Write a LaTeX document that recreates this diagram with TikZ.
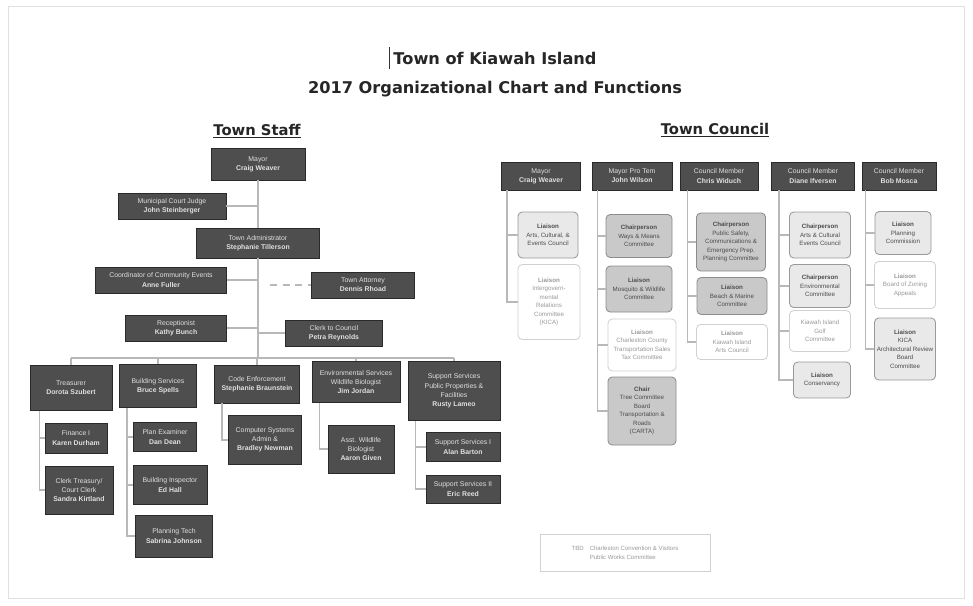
\documentclass[tikz,border=0pt]{standalone}
\usepackage{fontspec}
\setmainfont{Liberation Sans}
\newfontfamily\titlefont{DejaVu Sans}
\usetikzlibrary{calc}
\definecolor{dk}{HTML}{4E4E4E}
\definecolor{dkline}{HTML}{2A2A2A}
\definecolor{fg}{HTML}{C9C9C9}
\definecolor{fl}{HTML}{E9E9E9}
\tikzset{
 px/.style 2 args={minimum width=#1*0.025cm, minimum height=#2*0.025cm},
 dark/.style={draw=dkline, fill=dk, text=white!88!black, line width=0.7pt,
   font=\fontsize{4.9}{6.6}\selectfont, align=center, inner sep=1pt},
 fgray/.style={draw=black!45, fill=fg, rounded corners=3pt, text=black!70, line width=0.6pt,
   font=\fontsize{4.4}{6}\selectfont, align=center, inner sep=1pt},
 flight/.style={draw=black!40, fill=fl, rounded corners=3pt, text=black!70, line width=0.6pt,
   font=\fontsize{4.4}{6}\selectfont, align=center, inner sep=1pt},
 fwhite/.style={draw=black!18, fill=white, rounded corners=3pt, text=black!40, line width=0.6pt,
   font=\fontsize{4.4}{6}\selectfont, align=center, inner sep=1pt},
 conn/.style={draw=black!28, line width=0.9pt},
 heading/.style={font=\titlefont\bfseries\fontsize{10.5}{13}\selectfont, text=black!85},
 ttl/.style={font=\titlefont\bfseries\fontsize{11.5}{14}\selectfont, text=black!85},
}
\begin{document}
\begin{tikzpicture}[x=0.025cm,y=-0.025cm]
\useasboundingbox (0,0) rectangle (973,605);
\fill[white] (0,0) rectangle (973,605);
\draw[black!12, line width=0.5pt] (8,6) rectangle (964,598);

% titles
\node[ttl] (t1) at (495,58) {Town of Kiawah Island};
\draw[black!80, line width=0.5pt] (389,47) -- (389,69);
\node[ttl] (t2) at (495,89) {2017 Organizational Chart and Functions};
\node[heading] (hs) at (257,131) {\underline{Town Staff}};
\node[heading] (hc) at (715,130) {\underline{Town Council}};

% ---------------- Town Staff ----------------
\node[dark, px={94}{32}] (mayorS) at (258,164) {Mayor\\\textbf{Craig Weaver}};
\node[dark, px={108}{26}] (judge) at (172,206) {Municipal Court Judge\\\textbf{John Steinberger}};
\node[dark, px={123}{30}] (admin) at (258,243) {Town Administrator\\\textbf{Stephanie Tillerson}};
\node[dark, px={131}{26}] (coord) at (161,280) {Coordinator of Community Events\\\textbf{Anne Fuller}};
\node[dark, px={103}{26}] (atty) at (363,285) {Town Attorney\\\textbf{Dennis Rhoad}};
\node[dark, px={101}{26}] (recep) at (176,328) {Receptionist\\\textbf{Kathy Bunch}};
\node[dark, px={97}{26}] (clerk) at (334,333) {Clerk to Council\\\textbf{Petra Reynolds}};

\node[dark, px={82}{45}] (treas) at (71,388) {Treasurer\\\textbf{Dorota Szubert}};
\node[dark, px={77}{43}] (build) at (158,386) {Building Services\\\textbf{Bruce Spells}};
\node[dark, px={85}{38}] (code) at (257,384) {Code Enforcement\\\textbf{Stephanie Braunstein}};
\node[dark, px={88}{41}] (env) at (356,382) {Environmental Services\\Wildlife Biologist\\\textbf{Jim Jordan}};
\node[dark, px={92}{59}] (supp) at (454,391) {Support Services\\Public Properties \&\\Facilities\\\textbf{Rusty Lameo}};

\node[dark, px={62}{30}] (fin) at (76,438) {Finance I\\\textbf{Karen Durham}};
\node[dark, px={68}{48}] (ctreas) at (79,490) {Clerk Treasury/\\Court Clerk\\\textbf{Sandra Kirtland}};
\node[dark, px={63}{29}] (plan) at (165,437) {Plan Examiner\\\textbf{Dan Dean}};
\node[dark, px={74}{39}] (binsp) at (170,485) {Building Inspector\\\textbf{Ed Hall}};
\node[dark, px={77}{42}] (ptech) at (174,536) {Planning Tech\\\textbf{Sabrina Johnson}};
\node[dark, px={73}{49}] (codesub) at (265,440) {Computer Systems\\Admin \&\\\textbf{Bradley Newman}};
\node[dark, px={66}{48}] (wild) at (361,449) {Asst. Wildlife\\Biologist\\\textbf{Aaron Given}};
\node[dark, px={74}{29}] (supp1) at (463,447) {Support Services I\\\textbf{Alan Barton}};
\node[dark, px={74}{28}] (supp2) at (463,489) {Support Services II\\\textbf{Eric Reed}};

% staff connectors
\coordinate (bus) at (258,358);
\draw[conn] (mayorS.south) -- (admin.north);
\draw[conn] (admin.south) -- (bus);
\draw[conn] (judge.east) -- (judge.east -| bus);
\draw[conn] (coord.east) -- (coord.east -| bus);
\draw[conn, dashed, dash pattern=on 5pt off 4pt] ($(atty.west -| bus)+(12,0)$) -- (atty.west);
\draw[conn] (recep.east) -- (recep.east -| bus);
\draw[conn] (clerk.west -| bus) -- (clerk.west);
\draw[conn] (treas.north |- bus) -- (supp.north |- bus);
\foreach \n in {treas,build,code,env,supp}{\draw[conn] (\n.north |- bus) -- (\n.north);}

\coordinate (tl) at ($(treas.south west)+(10,0)$);
\draw[conn] (tl) |- (ctreas.west);
\draw[conn] (tl |- fin.west) -- (fin.west);
\coordinate (bl) at ($(build.south west)+(8,0)$);
\draw[conn] (bl) |- (ptech.west);
\draw[conn] (bl |- plan.west) -- (plan.west);
\draw[conn] (bl |- binsp.west) -- (binsp.west);
\coordinate (cl) at ($(code.south west)+(8,0)$);
\draw[conn] (cl) |- (codesub.west);
\coordinate (el) at ($(env.south west)+(8,0)$);
\draw[conn] (el) |- (wild.west);
\coordinate (sl) at ($(supp.south west)+(8,0)$);
\draw[conn] (sl) |- (supp2.west);
\draw[conn] (sl |- supp1.west) -- (supp1.west);

% ---------------- Town Council ----------------
\node[dark, px={79}{28}] (mayC) at (541,176) {Mayor\\\textbf{Craig Weaver}};
\node[dark, px={80}{28}] (protem) at (632,176) {Mayor Pro Tem\\\textbf{John Wilson}};
\node[dark, px={78}{28}] (cm1) at (719,176) {Council Member\\\textbf{Chris Widuch}};
\node[dark, px={83}{28}] (cm2) at (813,176) {Council Member\\\textbf{Diane Ifversen}};
\node[dark, px={74}{28}] (cm3) at (899,176) {Council Member\\\textbf{Bob Mosca}};

\node[flight, px={60}{46}] (m1) at (548,235) {\textbf{Liaison}\\Arts, Cultural, \&\\Events Council};
\node[fwhite, px={62}{75}] (m2) at (549,302) {\textbf{Liaison}\\Intergovern-\\mental\\Relations\\Committee\\(KICA)};

\node[fgray, px={66}{43}] (p1) at (639,236) {\textbf{Chairperson}\\Ways \& Means\\Committee};
\node[fgray, px={66}{46}] (p2) at (639,289) {\textbf{Liaison}\\Mosquito \& Wildlife\\Committee};
\node[fwhite, px={68}{52}] (p3) at (642,345) {\textbf{Liaison}\\Charleston County\\Transportation Sales\\Tax Committee};
\node[fgray, px={68}{68}] (p4) at (642,411) {\textbf{Chair}\\Tree Committee\\Board\\Transportation \&\\Roads\\(CARTA)};

\node[fgray, px={69}{58}] (c1) at (731,242) {\textbf{Chairperson}\\Public Safety,\\Communications \&\\Emergency Prep.\\Planning Committee};
\node[fgray, px={70}{37}] (c2) at (732,296) {\textbf{Liaison}\\Beach \& Marine\\Committee};
\node[fwhite, px={71}{35}] (c3) at (732,342) {\textbf{Liaison}\\Kiawah Island\\Arts Council};

\node[flight, px={61}{46}] (d1) at (820,235) {\textbf{Chairperson}\\Arts \& Cultural\\Events Council};
\node[flight, px={61}{43}] (d2) at (820,286) {\textbf{Chairperson}\\Environmental\\Committee};
\node[fwhite, px={61}{41}] (d3) at (820,331) {Kiawah Island\\Golf\\Committee};
\node[flight, px={57}{36}] (d4) at (822,380) {\textbf{Liaison}\\Conservancy};

\node[flight, px={56}{43}] (b1) at (903,233) {\textbf{Liaison}\\Planning\\Commission};
\node[fwhite, px={61}{47}] (b2) at (905,285) {\textbf{Liaison}\\Board of Zoning\\Appeals};
\node[flight, px={61}{62}] (b3) at (905,349) {\textbf{Liaison}\\KICA\\Architectural Review\\Board\\Committee};

% council connectors
\coordinate (ma) at ($(mayC.south west)+(6,0)$);
\draw[conn] (ma) |- (m2.west);
\draw[conn] (ma |- m1.west) -- (m1.west);
\coordinate (pa) at ($(protem.south west)+(6,0)$);
\draw[conn] (pa) |- (p4.west);
\foreach \n in {p1,p2,p3}{\draw[conn] (pa |- \n.west) -- (\n.west);}
\coordinate (ca) at ($(cm1.south west)+(8,0)$);
\draw[conn] (ca) |- (c3.west);
\foreach \n in {c1,c2}{\draw[conn] (ca |- \n.west) -- (\n.west);}
\coordinate (da) at ($(cm2.south west)+(8,0)$);
\draw[conn] (da) |- (d4.west);
\foreach \n in {d1,d2,d3}{\draw[conn] (da |- \n.west) -- (\n.west);}
\coordinate (ba) at ($(cm3.south west)+(4,0)$);
\draw[conn] (ba) |- (b3.west);
\foreach \n in {b1,b2}{\draw[conn] (ba |- \n.west) -- (\n.west);}

% legend
\node[draw=black!18, line width=0.6pt, px={170}{37}, text=black!40, align=left,
  font=\fontsize{4.3}{6.2}\selectfont] (legend) at (625,553)
  {TBD\quad Charleston Convention \& Visitors\\\phantom{TBD}\quad Public Works Committee};
\end{tikzpicture}
\end{document}
